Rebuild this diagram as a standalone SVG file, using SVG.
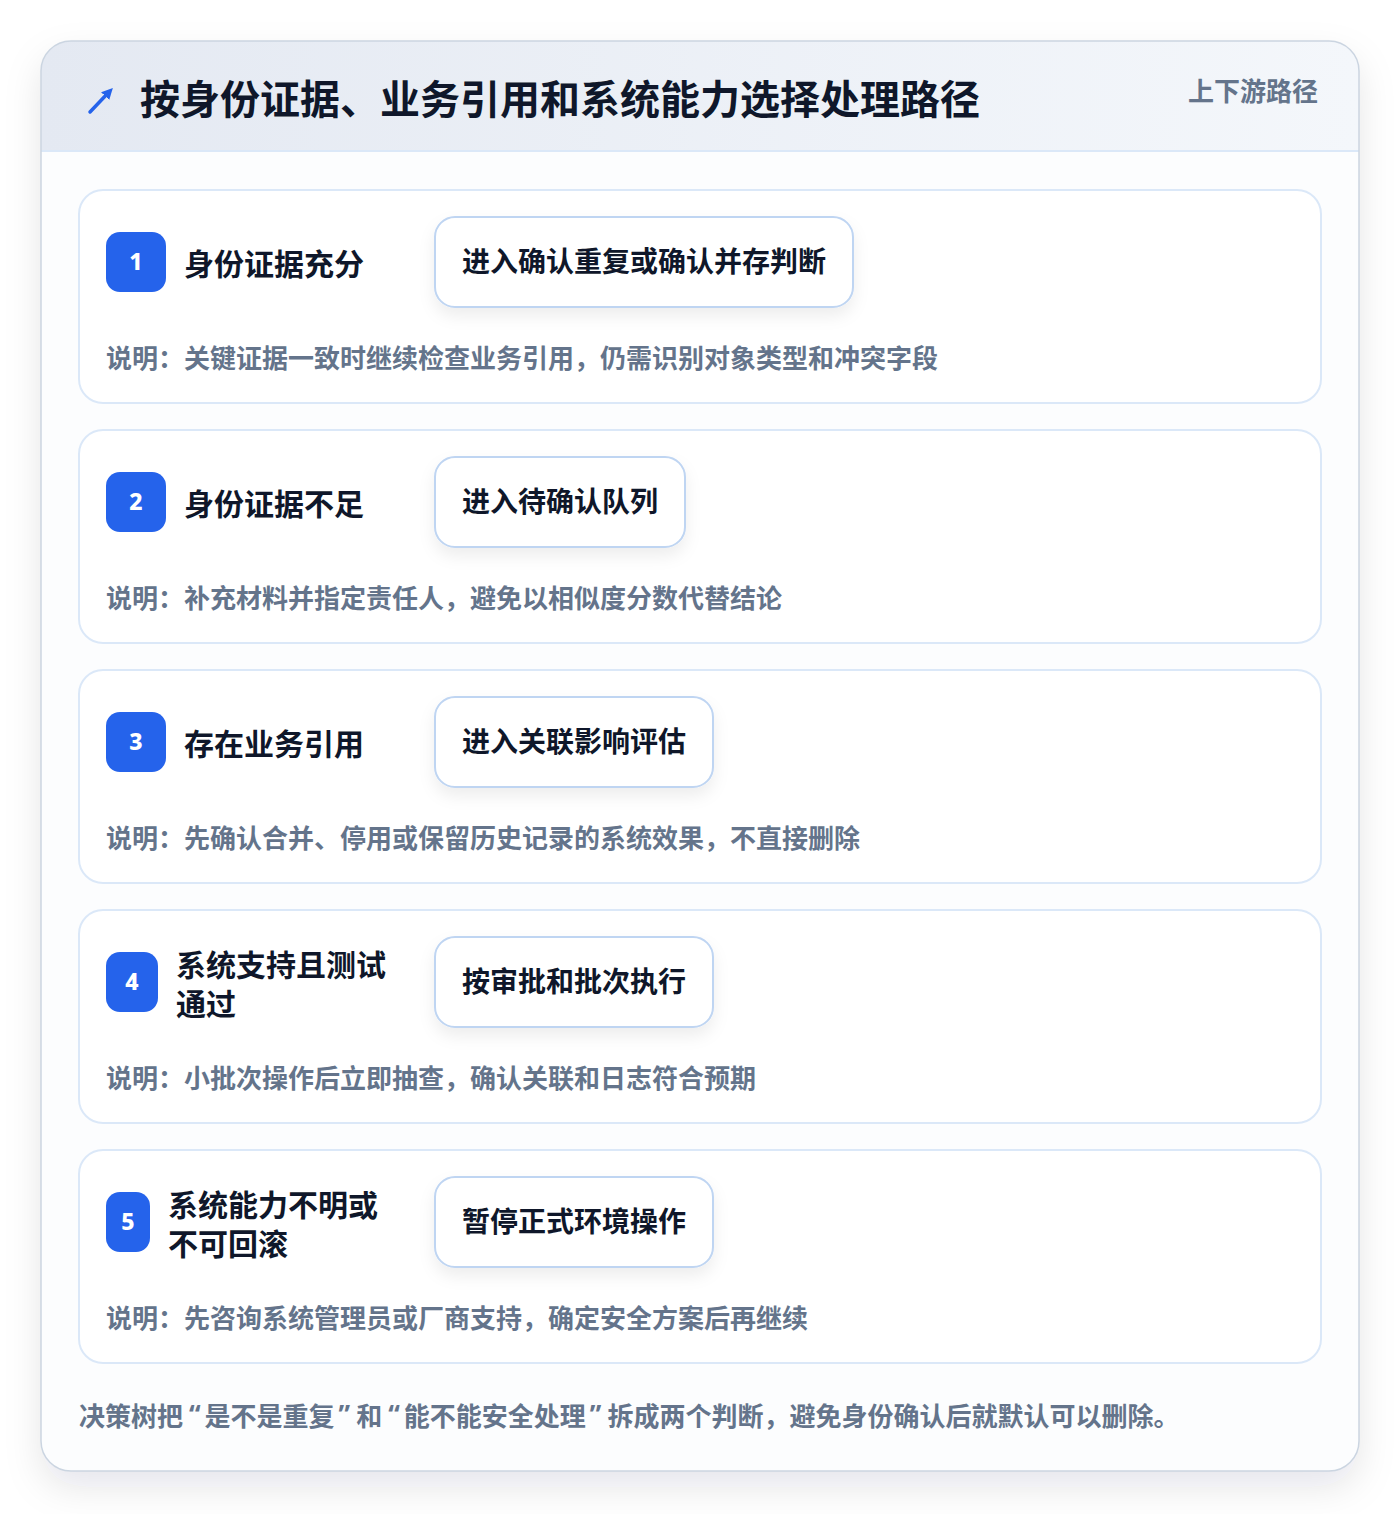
<svg xmlns="http://www.w3.org/2000/svg" width="1400" height="1514" viewBox="0 0 1400 1514">
<defs>
<linearGradient id="hdr" x1="0" y1="0" x2="1" y2="0">
<stop offset="0" stop-color="#e4e9f2"/>
<stop offset="1" stop-color="#f4f7fb"/>
</linearGradient>
<filter id="cardShadow" x="-10%" y="-10%" width="120%" height="120%">
<feDropShadow dx="0" dy="16" stdDeviation="18" flood-color="#0f172a" flood-opacity="0.10"/>
</filter>
<filter id="boxShadow" x="-20%" y="-30%" width="140%" height="180%">
<feDropShadow dx="0" dy="8" stdDeviation="8" flood-color="#0f172a" flood-opacity="0.07"/>
</filter>
<clipPath id="cardClip"><rect x="41" y="41" width="1318" height="1430" rx="30"/></clipPath>
<marker id="ah" viewBox="0 0 10 10" refX="5" refY="5" markerWidth="3.2" markerHeight="3.2" orient="auto">
<path d="M0,0 L10,5 L0,10 z" fill="#2563eb"/>
</marker>
</defs>
<style>
text{font-family:"Noto Sans CJK SC","Noto Sans",sans-serif;font-weight:700;dominant-baseline:central}
.row{fill:#ffffff;stroke:#dbe8f8;stroke-width:2}
.badge{fill:#2563eb}
.num{fill:#ffffff;font-family:"Noto Sans",sans-serif;font-size:23px;font-weight:800;text-anchor:middle}
.lbl{fill:#0f172a;font-size:30px}
.act{fill:#ffffff;stroke:#bfd5f2;stroke-width:2}
.actt{fill:#0f172a;font-size:28px}
.note{fill:#64748b;font-size:26px}
.q{font-family:"Noto Sans",sans-serif}
</style>
<rect x="0" y="0" width="1400" height="1514" fill="#ffffff"/>
<g id="card">
<rect x="41" y="41" width="1318" height="1430" rx="30" fill="#fcfdfe" filter="url(#cardShadow)"/>
<g clip-path="url(#cardClip)">
<rect x="41" y="41" width="1318" height="110" fill="url(#hdr)"/>
<line x1="41" y1="151" x2="1359" y2="151" stroke="#dbe8f8" stroke-width="2"/>
</g>
<rect x="41" y="41" width="1318" height="1430" rx="30" fill="none" stroke="#cbd5e1" stroke-width="1.5"/>
</g>
<g id="header">
<line x1="90" y1="112" x2="109" y2="92" stroke="#2563eb" stroke-width="3.5" stroke-linecap="round" marker-end="url(#ah)"/>
<text x="140" y="97" fill="#0f172a" font-size="40" textLength="840" lengthAdjust="spacingAndGlyphs">按身份证据、业务引用和系统能力选择处理路径</text>
<text x="1318" y="89" fill="#64748b" font-size="26" text-anchor="end">上下游路径</text>
</g>
<g id="connectors"/>
<g id="node-1">
<rect class="row" x="79" y="190" width="1242" height="213" rx="24"/>
<rect class="badge" x="106" y="232" width="60" height="60" rx="14"/>
<text class="num" x="136" y="261">1</text>
<text class="lbl" x="184" y="262">身份证据充分</text>
<rect class="act" x="435" y="217" width="418" height="90" rx="20" filter="url(#boxShadow)"/>
<text class="actt" x="462" y="260">进入确认重复或确认并存判断</text>
<text class="note" x="106" y="356">说明：关键证据一致时继续检查业务引用，仍需识别对象类型和冲突字段</text>
</g>
<g id="node-2">
<rect class="row" x="79" y="430" width="1242" height="213" rx="24"/>
<rect class="badge" x="106" y="472" width="60" height="60" rx="14"/>
<text class="num" x="136" y="501">2</text>
<text class="lbl" x="184" y="502">身份证据不足</text>
<rect class="act" x="435" y="457" width="250" height="90" rx="20" filter="url(#boxShadow)"/>
<text class="actt" x="462" y="500">进入待确认队列</text>
<text class="note" x="106" y="596">说明：补充材料并指定责任人，避免以相似度分数代替结论</text>
</g>
<g id="node-3">
<rect class="row" x="79" y="670" width="1242" height="213" rx="24"/>
<rect class="badge" x="106" y="712" width="60" height="60" rx="14"/>
<text class="num" x="136" y="741">3</text>
<text class="lbl" x="184" y="742">存在业务引用</text>
<rect class="act" x="435" y="697" width="278" height="90" rx="20" filter="url(#boxShadow)"/>
<text class="actt" x="462" y="740">进入关联影响评估</text>
<text class="note" x="106" y="836">说明：先确认合并、停用或保留历史记录的系统效果，不直接删除</text>
</g>
<g id="node-4">
<rect class="row" x="79" y="910" width="1242" height="213" rx="24"/>
<rect class="badge" x="106" y="952" width="52" height="60" rx="14"/>
<text class="num" x="132" y="981">4</text>
<text class="lbl" x="176" y="963">系统支持且测试</text>
<text class="lbl" x="176" y="1002">通过</text>
<rect class="act" x="435" y="937" width="278" height="90" rx="20" filter="url(#boxShadow)"/>
<text class="actt" x="462" y="980">按审批和批次执行</text>
<text class="note" x="106" y="1076">说明：小批次操作后立即抽查，确认关联和日志符合预期</text>
</g>
<g id="node-5">
<rect class="row" x="79" y="1150" width="1242" height="213" rx="24"/>
<rect class="badge" x="106" y="1192" width="44" height="60" rx="14"/>
<text class="num" x="128" y="1221">5</text>
<text class="lbl" x="168" y="1203">系统能力不明或</text>
<text class="lbl" x="168" y="1242">不可回滚</text>
<rect class="act" x="435" y="1177" width="278" height="90" rx="20" filter="url(#boxShadow)"/>
<text class="actt" x="462" y="1220">暂停正式环境操作</text>
<text class="note" x="106" y="1316">说明：先咨询系统管理员或厂商支持，确定安全方案后再继续</text>
</g>
<g id="footer">
<text class="note" x="79" y="1414">决策树把<tspan class="q" dx="6">“</tspan><tspan dx="4">是不是重复</tspan><tspan class="q" dx="4">”</tspan><tspan dx="6">和</tspan><tspan class="q" dx="6">“</tspan><tspan dx="4">能不能安全处理</tspan><tspan class="q" dx="4">”</tspan><tspan dx="6">拆成两个判断，避免身份确认后就默认可以删除。</tspan></text>
</g>
</svg>
